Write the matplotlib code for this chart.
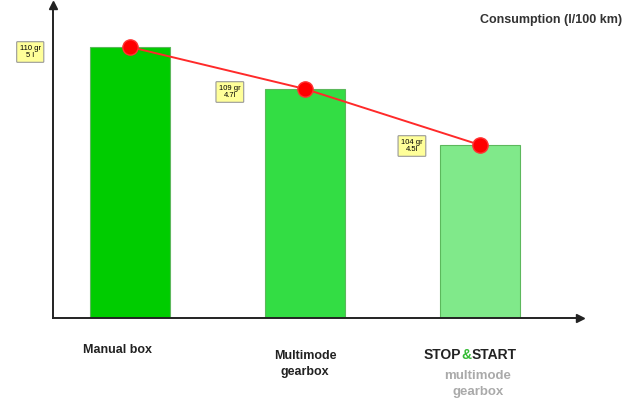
import numpy as np
import matplotlib.pyplot as plt

plt.rcParams['font.family'] = ['Liberation Sans', 'DejaVu Sans']

# data
categories = ["Manual box", "Multimode\ngearbox", "STOP&START\nmultimode\ngearbox"]
bar_heights = [271, 229, 173]          # relative bar height (no scale in the original)
co2 = ["110 gr", "109 gr", "104 gr"]
litres = ["5 l", "4.7l", "4.5l"]
bar_colors = ["#00cc00", "#33dd44", "#80e98a"]

fig = plt.figure(figsize=(6.36, 3.99), dpi=100)
ax = fig.add_axes([53 / 636, 81 / 399, 527 / 636, 313 / 399])

x = np.arange(len(categories))
ax.bar(x, bar_heights, width=0.46, color=bar_colors, edgecolor="#5cb85c", linewidth=0.8, zorder=2)
ax.plot(x, bar_heights, color="#ff2a2a", lw=1.4, marker="o", ms=11,
        mfc="#ff0000", mec="#ff3333", zorder=3, clip_on=False)

ax.set_xlim(-0.44, 2.57)
ax.set_ylim(0, 313)
for s in ["top", "right"]:
    ax.spines[s].set_visible(False)
for s in ["left", "bottom"]:
    ax.spines[s].set_linewidth(1.4)
    ax.spines[s].set_color("#222222")
ax.set_xticks([])
ax.set_yticks([])
# arrow heads on the axes
ax.plot(1, 0, ">", color="#222222", ms=6, transform=ax.transAxes, clip_on=False)
ax.plot(0, 1, "^", color="#222222", ms=6, transform=ax.transAxes, clip_on=False)

# yellow value tags left of each bar
tag_dx = [-0.57, -0.43, -0.39]
tag_dy = [-5, -3, -1]
for xi, h, g, l, dx, dy in zip(x, bar_heights, co2, litres, tag_dx, tag_dy):
    ax.text(xi + dx, h + dy, g + "\n" + l, fontsize=5.5, ha="center", va="center",
            linespacing=1.1, clip_on=False,
            bbox=dict(boxstyle="round,pad=0.4,rounding_size=0.1", fc="#ffff99", ec="#999999", lw=0.8))

fig.text(0.978, 0.95, "Consumption (l/100 km)", ha="right", va="center",
         fontsize=9, fontweight="bold", color="#333333")

# category labels
fig.text(118 / 636, 1 - 350 / 399, "Manual box", ha="center", va="center",
         fontsize=9, fontweight="bold", color="#222222")
fig.text(305 / 636, 1 - 364 / 399, "Multimode\ngearbox", ha="center", va="center",
         fontsize=9, fontweight="bold", color="#222222", linespacing=1.4)

# STOP&START with a green ampersand, pieces placed by their measured widths
renderer = fig.canvas.get_renderer()
sx, sy = 424, 399 - 355
kw = dict(va="center", fontsize=10, fontweight="bold")


def width_px(s):
    t = fig.text(0, 0, s, **kw)
    w = t.get_window_extent(renderer).width
    t.remove()
    return w


pieces = [("STOP", "#222222"), ("&", "#33bb33"), ("START", "#222222")]
prefix = ""
for s, c in pieces:
    prefix += s
    fig.text((sx + width_px(prefix)) / 636, sy / 399, s, ha="right", color=c, **kw)

fig.text(478 / 636, 1 - 384 / 399, "multimode\ngearbox", ha="center", va="center",
         fontsize=9.5, fontweight="bold", color="#aaaaaa", linespacing=1.4)

fig.savefig("out.png", dpi=100)
